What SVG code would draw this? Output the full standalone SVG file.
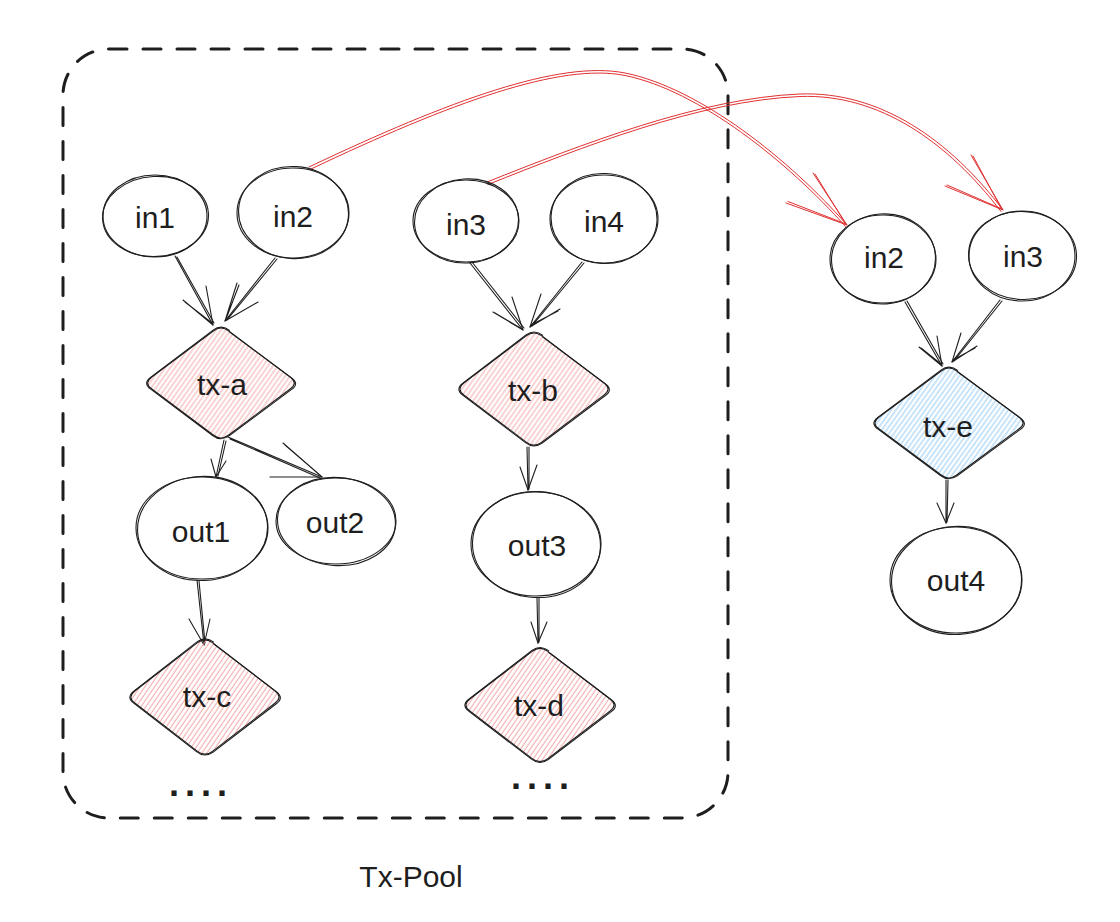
<svg xmlns="http://www.w3.org/2000/svg" xmlns:xlink="http://www.w3.org/1999/xlink" width="1120" height="922" viewBox="0 0 1120 922">
  <style>
    .outline { fill: none; stroke: #1e1e1e; stroke-width: 1.1; }
    .label { font-family: "Liberation Sans", Arial, sans-serif; font-size: 30px; fill: #1e1e1e; text-anchor: middle; }
    .dots { font-family: "Liberation Sans", Arial, sans-serif; font-size: 36px; font-weight: bold; fill: #1e1e1e; letter-spacing: 6px; }
    .edge { fill: none; stroke: #1e1e1e; stroke-width: 1.1; stroke-linecap: round; stroke-linejoin: round; }
    .edge-red { fill: none; stroke: #e03131; stroke-width: 1; stroke-linecap: round; stroke-linejoin: round; }
    .pool { fill: none; stroke: #1e1e1e; stroke-width: 3; stroke-dasharray: 18 16; stroke-linecap: round; }
  </style>
  <defs>
    <!-- hachure fills -->
    <pattern id="hatch-red" patternUnits="userSpaceOnUse" width="4" height="10" patternTransform="rotate(35)">
      <line x1="1" y1="0" x2="1" y2="10" stroke="#f39c9c" stroke-width="0.9"/>
    </pattern>
    <pattern id="hatch-blue" patternUnits="userSpaceOnUse" width="4" height="10" patternTransform="rotate(35)">
      <line x1="1" y1="0" x2="1" y2="10" stroke="#85c3f3" stroke-width="0.9"/>
    </pattern>
    <!-- rounded diamond, centred on the origin, with a doubled hand-drawn outline -->
    <g id="diamond">
      <path d="M7.8,-53.1 L70.2,-5.9 Q78,0 70.2,5.9 L7.8,53.1 Q0,59 -7.8,53.1 L-70.2,5.9 Q-78,0 -70.2,-5.9 L-7.8,-53.1 Q0,-59 7.8,-53.1 Z" stroke="none"/>
      <path class="outline" d="M7.8,-53.1 L70.2,-5.9 Q78,0 70.2,5.9 L7.8,53.1 Q0,59 -7.8,53.1 L-70.2,5.9 Q-78,0 -70.2,-5.9 L-7.8,-53.1 Q0,-59 7.8,-53.1 Z"/>
      <path class="outline" d="M8.5,-52.2 L71.5,-5 Q79.5,1 71,6.8 L8.2,54 Q-0.5,60 -8.5,53.6 L-71,6.3 Q-79,0.5 -71.5,-5.5 L-8,-54 Q0.5,-60.2 9,-53.5"/>
    </g>
  </defs>

  <rect width="1120" height="922" fill="#ffffff"/>

  <!-- pool boundary -->
  <g id="tx-pool">
    <rect class="pool" x="63" y="49" width="665" height="769" rx="46" ry="46"/>
    <text class="label" x="411" y="887">Tx-Pool</text>
    <text class="dots" x="169" y="796">....</text>
    <text class="dots" x="511" y="789">....</text>
  </g>

  <!-- connectors -->
  <g id="connectors">
    <!-- in1 -> tx-a -->
    <path class="edge" d="M175,256 L213,325 M177,257 L214,323"/>
    <path class="edge" d="M183,300 L213,325 L206,286 M185,302 L212,323"/>
    <!-- in2 -> tx-a -->
    <path class="edge" d="M275,258 L225,321 M277,259 L227,320"/>
    <path class="edge" d="M237,283 L225,321 L258,302 M239,285 L226,319"/>
    <!-- tx-a -> out1 -->
    <path class="edge" d="M224,440 L216,477 M226,441 L218,476"/>
    <path class="edge" d="M211,459 L216,477 L226,461"/>
    <!-- tx-a -> out2 -->
    <path class="edge" d="M228,437 L322,477 M230,439 L320,478"/>
    <path class="edge" d="M283,443 L322,477 L270,477 M285,445 L321,476"/>
    <!-- out1 -> tx-c -->
    <path class="edge" d="M197,580 L204,645 M199,581 L205,643"/>
    <path class="edge" d="M189,619 L204,645 L210,619"/>
    <!-- in3 -> tx-b -->
    <path class="edge" d="M470,263 L523,330 M472,262 L524,328"/>
    <path class="edge" d="M493,312 L523,330 L512,297 M495,313 L522,329"/>
    <!-- in4 -> tx-b -->
    <path class="edge" d="M582,262 L530,327 M584,263 L532,326"/>
    <path class="edge" d="M560,309 L530,327 L541,294 M558,311 L531,325"/>
    <!-- tx-b -> out3 -->
    <path class="edge" d="M527,447 L528,490 M529,447 L529,489"/>
    <path class="edge" d="M520,467 L528,490 L537,465"/>
    <!-- out3 -> tx-d -->
    <path class="edge" d="M537,598 L538,643 M539,598 L539,642"/>
    <path class="edge" d="M531,622 L538,643 L547,622"/>
    <!-- in2 -> tx-e -->
    <path class="edge" d="M905,302 L942,366 M907,301 L943,364"/>
    <path class="edge" d="M919,347 L942,366 L937,336 M921,348 L941,364"/>
    <!-- in3 -> tx-e -->
    <path class="edge" d="M1000,300 L952,362 M1002,301 L954,361"/>
    <path class="edge" d="M977,346 L952,362 L961,333 M975,348 L953,360"/>
    <!-- tx-e -> out4 -->
    <path class="edge" d="M946,480 L946,523 M948,480 L947,522"/>
    <path class="edge" d="M937,503 L946,523 L954,503"/>

    <!-- in2 (pool) -> in2 -->
    <path class="edge-red" d="M309,167 C450,100 560,60 625,73 C700,88 790,160 847,225"/>
    <path class="edge-red" d="M310,169.5 C451,102.5 561,62.5 625,75.5 C699,90.5 788,162 845.5,226.5"/>
    <path class="edge-red" d="M786,203 L847,225 L813,173 M788,201.5 L846,224 M815,174 L845,223"/>
    <!-- in3 (pool) -> in3 -->
    <path class="edge-red" d="M487,182 C580,145 700,98 800,94 C880,91 950,140 1003,210"/>
    <path class="edge-red" d="M488,184.5 C581,147.5 700,100.5 800,96.5 C879,93.5 948,142 1001,211.5"/>
    <path class="edge-red" d="M945,186 L1003,210 L971,155 M947,185 L1002,209 M973,156 L1001,208"/>
  </g>

  <!-- inputs inside the pool -->
  <g id="in1">
    <ellipse class="outline" cx="155" cy="216" rx="52" ry="41"/>
    <ellipse class="outline" cx="155.5" cy="216.5" rx="53" ry="40" transform="rotate(-3 155 216)"/>
    <text class="label" x="155" y="228">in1</text>
  </g>
  <g id="in2">
    <ellipse class="outline" cx="293" cy="213" rx="56" ry="45"/>
    <ellipse class="outline" cx="293.5" cy="212.5" rx="55" ry="46" transform="rotate(4 293 213)"/>
    <text class="label" x="293" y="227">in2</text>
  </g>
  <g id="in3">
    <ellipse class="outline" cx="466" cy="221" rx="53" ry="41"/>
    <ellipse class="outline" cx="466.5" cy="221" rx="52" ry="42" transform="rotate(-4 466 221)"/>
    <text class="label" x="466" y="235">in3</text>
  </g>
  <g id="in4">
    <ellipse class="outline" cx="604" cy="219" rx="54" ry="44"/>
    <ellipse class="outline" cx="604" cy="218.5" rx="53" ry="45" transform="rotate(3 604 219)"/>
    <text class="label" x="604" y="232">in4</text>
  </g>

  <!-- transactions inside the pool -->
  <g id="tx-a">
    <use xlink:href="#diamond" transform="translate(221,383) scale(0.99,0.98)" fill="url(#hatch-red)"/>
    <text class="label" x="222" y="395">tx-a</text>
  </g>
  <g id="tx-b">
    <use xlink:href="#diamond" transform="translate(534,389)" fill="url(#hatch-red)"/>
    <text class="label" x="533" y="401">tx-b</text>
  </g>
  <g id="tx-c">
    <use xlink:href="#diamond" transform="translate(205,697) scale(1,1.02)" fill="url(#hatch-red)"/>
    <text class="label" x="207" y="707">tx-c</text>
  </g>
  <g id="tx-d">
    <use xlink:href="#diamond" transform="translate(540,705) scale(1,1.01)" fill="url(#hatch-red)"/>
    <text class="label" x="539" y="716">tx-d</text>
  </g>

  <!-- outputs inside the pool -->
  <g id="out1">
    <ellipse class="outline" cx="202" cy="528" rx="66" ry="51"/>
    <ellipse class="outline" cx="202.5" cy="528.5" rx="65" ry="52" transform="rotate(-3 202 528)"/>
    <text class="label" x="201" y="542">out1</text>
  </g>
  <g id="out2">
    <ellipse class="outline" cx="336" cy="521" rx="60" ry="43"/>
    <ellipse class="outline" cx="336.5" cy="521.5" rx="59" ry="44" transform="rotate(4 336 521)"/>
    <text class="label" x="335" y="533">out2</text>
  </g>
  <g id="out3">
    <ellipse class="outline" cx="536" cy="544" rx="65" ry="52"/>
    <ellipse class="outline" cx="536.5" cy="544.5" rx="64" ry="53" transform="rotate(3 536 544)"/>
    <text class="label" x="537" y="556">out3</text>
  </g>

  <!-- spending transaction outside the pool -->
  <g id="in2-ext">
    <ellipse class="outline" cx="883" cy="259" rx="53" ry="44"/>
    <ellipse class="outline" cx="883.5" cy="259" rx="52" ry="45" transform="rotate(-4 883 259)"/>
    <text class="label" x="884" y="268">in2</text>
  </g>
  <g id="in3-ext">
    <ellipse class="outline" cx="1022" cy="256" rx="53" ry="45"/>
    <ellipse class="outline" cx="1022.5" cy="255.5" rx="54" ry="44" transform="rotate(3 1022 256)"/>
    <text class="label" x="1023" y="267">in3</text>
  </g>
  <g id="tx-e">
    <use xlink:href="#diamond" transform="translate(949,423) scale(1,0.98)" fill="url(#hatch-blue)"/>
    <text class="label" x="948" y="437">tx-e</text>
  </g>
  <g id="out4">
    <ellipse class="outline" cx="956" cy="580" rx="66" ry="53"/>
    <ellipse class="outline" cx="956.5" cy="580.5" rx="65" ry="54" transform="rotate(-3 956 580)"/>
    <text class="label" x="956" y="591">out4</text>
  </g>
</svg>
